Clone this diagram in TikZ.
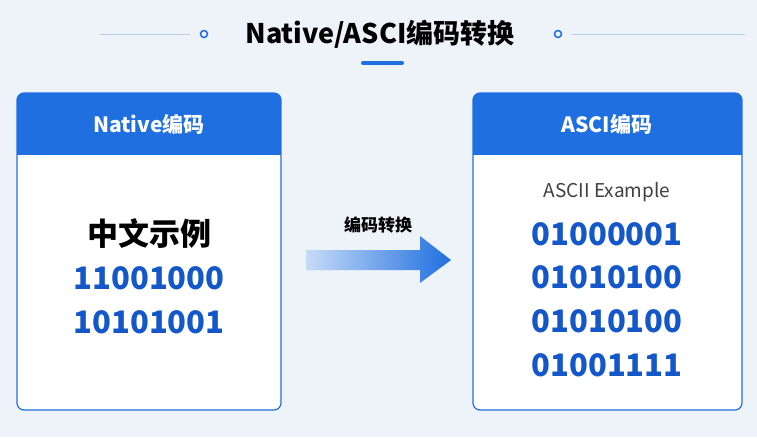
\documentclass[tikz,border=0pt]{standalone}
\usepackage{fontspec}
\setmainfont{Noto Sans CJK SC}
\usetikzlibrary{shapes.arrows}
\definecolor{bg}{HTML}{EEF3FA}
\definecolor{hb}{HTML}{1F6FE0}
\definecolor{nb}{HTML}{1457C8}
\definecolor{ln}{HTML}{B8CBEA}
\tikzset{
  panel/.style={draw=hb,line width=1.2pt,fill=white,rounded corners=7pt},
  hdr/.style={text=white,font=\bfseries\fontsize{21}{24}\selectfont},
  num/.style={text=nb,font=\bfseries\fontsize{31}{34}\selectfont},
}
\begin{document}
\begin{tikzpicture}[x=1pt,y=-1pt]
\fill[bg] (0,0) rectangle (757,437);
\useasboundingbox (0,0) rectangle (757,437);
% title
\node[font=\bfseries\fontsize{27}{30}\selectfont] (title) at (380,34) {Native/ASCI编码转换};
\draw[ln,line width=0.8pt] (100,34) -- (190,34);
\draw[ln,line width=0.8pt] (572,34) -- (745,34);
\draw[hb,line width=1.5pt] (204,34) circle (3.5);
\draw[hb,line width=1.5pt] (558,34) circle (3.5);
\draw[hb,line width=4pt,line cap=round] (363,63) -- (402,63);
% left panel
\draw[panel] (17,93) rectangle (281,410);
\begin{scope}
\clip[rounded corners=7pt] (17,93) rectangle (281,410);
\fill[hb] (17,93) rectangle (281,155);
\end{scope}
\node[hdr] (lh) at (149,124) {Native编码};
\node[font=\bfseries\fontsize{31}{34}\selectfont] (cn) at (149,234) {中文示例};
\node[num] (l1) at (149,278) {11001000};
\node[num] (l2) at (149,322) {10101001};
% right panel
\draw[panel] (473,93) rectangle (742,410);
\begin{scope}
\clip[rounded corners=7pt] (473,93) rectangle (742,410);
\fill[hb] (473,93) rectangle (742,155);
\end{scope}
\node[hdr] (rh) at (607,124) {ASCI编码};
\node[text=black!75,font=\fontsize{19}{22}\selectfont] (ex) at (607,192) {ASCII Example};
\node[num] (r1) at (607,234) {01000001};
\node[num] (r2) at (607,277) {01010100};
\node[num] (r3) at (607,321) {01010100};
\node[num] (r4) at (607,365) {01001111};
% arrow
\node[font=\bfseries\fontsize{17}{20}\selectfont] (al) at (378,225) {编码转换};
\shade[left color=hb!25,right color=hb] (306,250) -- (420,250) -- (420,236) -- (451,260) -- (420,283) -- (420,270) -- (306,270) -- cycle;
\end{tikzpicture}
\end{document}
